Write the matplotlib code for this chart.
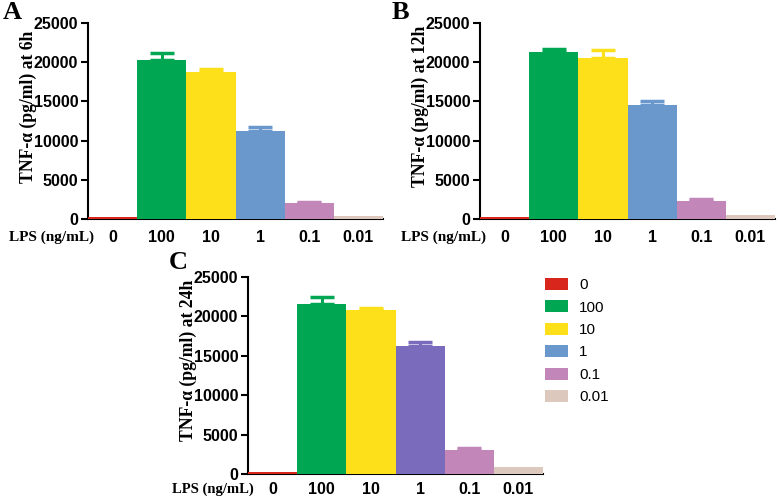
import numpy as np
import matplotlib.pyplot as plt
from matplotlib.patches import Patch

doses = ["0", "100", "10", "1", "0.1", "0.01"]
colors = ["#d9261c", "#00a651", "#fde01a", "#6a98cd", "#c386b8", "#dcc8bc"]

tnf_6h = [300, 20300, 18700, 11200, 2100, 350]
err_6h = [0, 900, 500, 600, 100, 0]
tnf_12h = [300, 21300, 20600, 14500, 2300, 500]
err_12h = [0, 400, 900, 500, 200, 0]
tnf_24h = [300, 21600, 20800, 16300, 3100, 850]
err_24h = [0, 900, 300, 400, 200, 0]
colors_24h = ["#d9261c", "#00a651", "#fde01a", "#7b6bbd", "#c386b8", "#dcc8bc"]

fig = plt.figure(figsize=(7.78, 4.96), dpi=100)

def panel(rect, vals, errs, cols, hours, letter, letter_xy, xpad, lps_size):
    ax = fig.add_axes(rect)
    x = np.arange(len(doses))
    ax.bar(x, vals, width=1.0, color=cols, zorder=3)
    for xi, v, e, c in zip(x, vals, errs, cols):
        if e > 0:
            ax.errorbar(xi, v, yerr=[[0], [e]], color=c, capsize=8.5, elinewidth=2.2,
                        capthick=2.5, zorder=2)
    ax.set_xlim(-0.5, 5.5)
    ax.set_ylim(0, 25000)
    ax.set_yticks(range(0, 25001, 5000))
    ax.set_xticks(x)
    ax.set_xticklabels(doses)
    ax.tick_params(axis="x", length=0, pad=xpad)
    ax.tick_params(axis="y", length=5, width=1.5, pad=2)
    for lab in ax.get_xticklabels() + ax.get_yticklabels():
        lab.set_fontfamily("Liberation Sans")
        lab.set_fontweight("bold")
        lab.set_fontsize(11.5)
    for s in ["top", "right"]:
        ax.spines[s].set_visible(False)
    ax.spines["left"].set_linewidth(1.5)
    ax.spines["bottom"].set_linewidth(1.5)
    ax.set_ylabel("TNF-α (pg/ml) at " + hours, fontfamily="Liberation Serif",
                  fontweight="bold", fontsize=12.7)
    ax.yaxis.set_label_coords(-0.174, 0.575)
    ax.annotate("LPS (ng/mL)", xy=(0.02, 0), xycoords="axes fraction",
                xytext=(0, -(xpad * 100 / 72 + 7)), textcoords="offset pixels",
                ha="right", va="center",
                fontfamily="Liberation Serif", fontweight="bold", fontsize=lps_size)
    ax.text(letter_xy[0], letter_xy[1], letter, transform=ax.transAxes, ha="left", va="center",
            fontfamily="Liberation Serif", fontweight="bold", fontsize=19)
    return ax

panel([0.1131, 0.5585, 0.3792, 0.395], tnf_6h, err_6h, colors, "6h", "A",
      (-0.29, 1.056), 8, 11)
panel([0.617, 0.5585, 0.3792, 0.395], tnf_12h, err_12h, colors, "12h", "B",
      (-0.298, 1.056), 8, 11)
panel([0.3188, 0.0444, 0.3792, 0.397], tnf_24h, err_24h, colors_24h, "24h", "C",
      (-0.27, 1.076), 5.8, 10.5)

handles = [Patch(facecolor=c, edgecolor="none") for c in colors]
leg = fig.legend(handles, doses, loc="upper left", bbox_to_anchor=(0.6902, 0.4556),
                 frameon=False, borderpad=0, handlelength=1.5, handleheight=0.85,
                 labelspacing=0.53, handletextpad=0.75,
                 prop={"family": "Liberation Sans", "size": 11})

fig.savefig("out.png", dpi=100)
